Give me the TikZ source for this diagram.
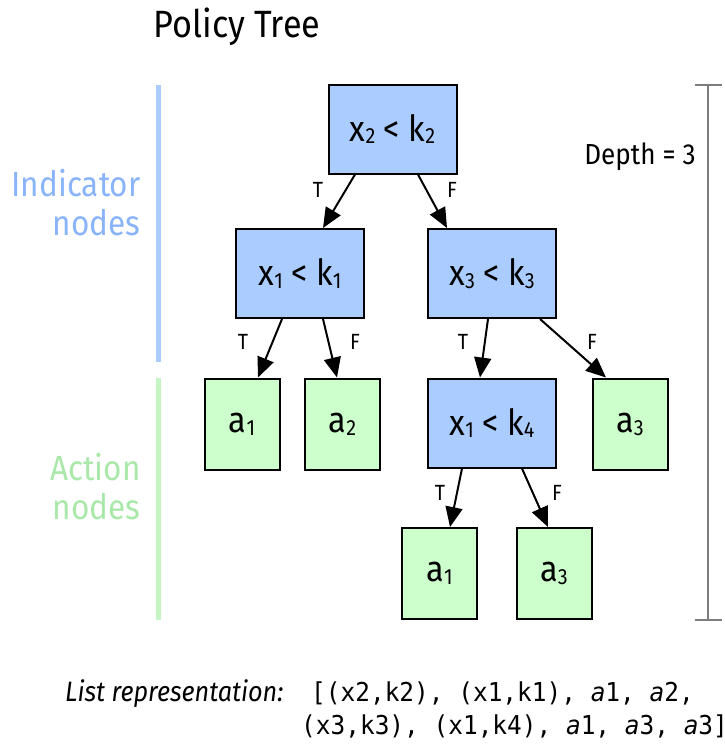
\documentclass[tikz,border=0pt]{standalone}
\usepackage{fontspec}
\setmainfont{Fira Sans}[FakeStretch=0.9]
\setmonofont{DejaVu Sans Mono}[FakeStretch=0.94]
\usetikzlibrary{arrows.meta,calc}

\definecolor{indblue}{RGB}{170,204,255}
\definecolor{actgreen}{RGB}{204,255,204}
\definecolor{indtext}{RGB}{138,180,250}
\definecolor{acttext}{RGB}{170,232,170}
\definecolor{actbar}{RGB}{196,246,196}
\definecolor{bargray}{RGB}{125,125,125}

\newcommand\idx[1]{\raisebox{-0.08em}{\fontsize{22}{22}\selectfont #1}}

\begin{document}
\begin{tikzpicture}[x=1pt,y=-1pt,
  cond/.style={draw=black, line width=2pt, fill=indblue, minimum width=128pt,
    minimum height=89pt, inner sep=0pt, font=\fontsize{36}{36}\selectfont},
  act/.style={draw=black, line width=2pt, fill=actgreen, minimum width=75pt,
    minimum height=91pt, inner sep=0pt, font=\fontsize{36}{36}\selectfont},
  edge/.style={line width=2pt, -{Triangle[length=20pt,width=17pt]}},
  tf/.style={font=\fontsize{22}{22}\selectfont, inner sep=0pt},
  side/.style={align=right, anchor=east, font=\fontsize{35}{39}\selectfont},
  mono/.style={anchor=base west, inner sep=0pt, font=\fontsize{26}{26}\ttfamily}]
\useasboundingbox (0,0) rectangle (725,745);
\clip (0,0) rectangle (725,745);

% title
\node[anchor=west, font=\fontsize{38}{38}\selectfont] (title) at (150,27) {Policy Tree};

% tree nodes
\node[cond] (root) at (392.5,129) {x\idx{2} < k\idx{2}};
\node[cond] (c1) at (300,273.5) {x\idx{1} < k\idx{1}};
\node[cond] (c3) at (492,273.5) {x\idx{3} < k\idx{3}};
\node[act] (l1) at (242,424) {a\idx{1}};
\node[act] (l2) at (342.5,424) {a\idx{2}};
\node[cond] (c4) at (492,423) {x\idx{1} < k\idx{4}};
\node[act] (l3) at (630,424) {a\idx{3}};
\node[act] (l4) at (439.5,573.5) {a\idx{1}};
\node[act] (l5) at (554,573.5) {a\idx{3}};

% branches
\draw[edge] ([xshift=-37.5pt]root.south) -- ([xshift=23pt]c1.north);
\draw[edge] ([xshift=25.5pt]root.south) -- ([xshift=-45pt]c3.north);
\draw[edge] ([xshift=-18pt]c1.south) -- ([xshift=16pt]l1.north);
\draw[edge] ([xshift=23pt]c1.south) -- ([xshift=-5.5pt]l2.north);
\draw[edge] ([xshift=-4pt]c3.south) -- ([xshift=-12pt]c4.north);
\draw[edge] ([xshift=48pt]c3.south) -- ([xshift=-24pt]l3.north);
\draw[edge] ([xshift=-30pt]c4.south) -- ([xshift=10.5pt]l4.north);
\draw[edge] ([xshift=30pt]c4.south) -- ([xshift=-6pt]l5.north);

% branch labels
\node[tf] (t1) at (318,190) {T};
\node[tf] (f1) at (452,190) {F};
\node[tf] (t2) at (243,342) {T};
\node[tf] (f2) at (355,342) {F};
\node[tf] (t3) at (463,342) {T};
\node[tf] (f3) at (592,342) {F};
\node[tf] (t4) at (440,493) {T};
\node[tf] (f4) at (557,493) {F};

% side bars and their captions
\draw[line width=5pt, indblue] (158,85) -- (158,362);
\draw[line width=5pt, actbar] (158,378) -- (158,620);
\node[side, text=indtext] (indlbl) at (144,203) {Indicator\\nodes};
\node[side, text=acttext] (actlbl) at (144,487) {Action\\nodes};

% depth bracket
\draw[line width=2pt, bargray] (695,85) -- (722,85) (708,85) -- (708,620) (695,620) -- (722,620);
\node[font=\fontsize{29}{29}\selectfont] (depth) at (640,157) {Depth = 3};

% flattened list
\node[anchor=base west, inner sep=0pt, font=\fontsize{28}{28}\selectfont\itshape] (listlbl) at (65,701) {List representation:};
\node[mono] (list1) at (311,701) {[(x2,k2), (x1,k1), \textit{a}1, \textit{a}2,};
\node[mono] (list2) at (301,734) {(x3,k3), (x1,k4), \textit{a}1, \textit{a}3, \textit{a}3]};
\end{tikzpicture}
\end{document}
